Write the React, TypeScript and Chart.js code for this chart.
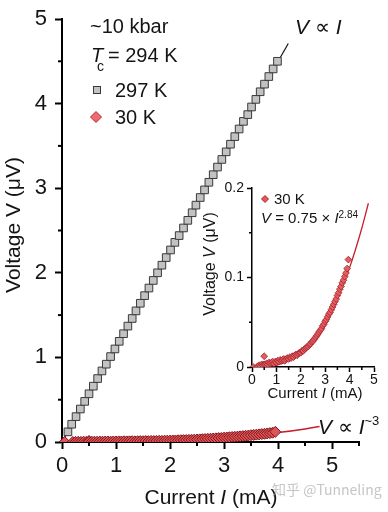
import React, { useEffect, useRef } from 'react';
import { Chart, registerables } from 'chart.js';
Chart.register(...registerables);

const FONT = "'Liberation Sans', Arial, Helvetica, sans-serif";

// 297 K data (grey squares)
const sqCurrent = [0.11, 0.18, 0.26, 0.34, 0.42, 0.50, 0.58, 0.66, 0.74, 0.82, 0.90, 0.98, 1.06, 1.14, 1.22, 1.30, 1.37, 1.45, 1.53, 1.61, 1.69, 1.77, 1.85, 1.93, 2.01, 2.09, 2.17, 2.25, 2.33, 2.41, 2.48, 2.56, 2.64, 2.72, 2.80, 2.88, 2.96, 3.04, 3.12, 3.20, 3.28, 3.36, 3.44, 3.51, 3.59, 3.67, 3.75, 3.83, 3.91, 3.99];
const sqVoltage = [0.12, 0.21, 0.30, 0.39, 0.48, 0.57, 0.66, 0.75, 0.84, 0.92, 1.01, 1.10, 1.19, 1.28, 1.37, 1.46, 1.55, 1.64, 1.73, 1.82, 1.91, 2.00, 2.09, 2.18, 2.27, 2.36, 2.44, 2.53, 2.62, 2.71, 2.80, 2.89, 2.98, 3.07, 3.16, 3.25, 3.34, 3.43, 3.52, 3.61, 3.70, 3.79, 3.87, 3.96, 4.05, 4.14, 4.23, 4.32, 4.41, 4.50];

// 30 K data (red diamonds)
const dmCurrent = [0.05, 0.20, 0.25, 0.30, 0.35, 0.40, 0.45, 0.50, 0.50, 0.55, 0.60, 0.65, 0.70, 0.75, 0.80, 0.85, 0.90, 0.95, 1.00, 1.05, 1.10, 1.15, 1.20, 1.25, 1.30, 1.35, 1.40, 1.45, 1.50, 1.55, 1.60, 1.65, 1.70, 1.75, 1.80, 1.85, 1.90, 1.95, 2.00, 2.05, 2.10, 2.15, 2.20, 2.25, 2.30, 2.35, 2.40, 2.45, 2.50, 2.55, 2.60, 2.65, 2.70, 2.75, 2.80, 2.85, 2.90, 2.95, 3.00, 3.05, 3.10, 3.15, 3.20, 3.25, 3.30, 3.35, 3.40, 3.45, 3.50, 3.55, 3.60, 3.65, 3.70, 3.75, 3.80, 3.85, 3.90, 3.95];
const dmVoltage = [0.000, 0.000, 0.001, 0.002, 0.001, 0.003, 0.002, 0.012, 0.003, 0.003, 0.004, 0.003, 0.005, 0.004, 0.005, 0.006, 0.004, 0.006, 0.005, 0.007, 0.006, 0.008, 0.007, 0.008, 0.009, 0.007, 0.009, 0.010, 0.009, 0.011, 0.010, 0.012, 0.011, 0.013, 0.014, 0.013, 0.015, 0.016, 0.016, 0.018, 0.018, 0.020, 0.021, 0.022, 0.023, 0.025, 0.026, 0.028, 0.029, 0.031, 0.033, 0.035, 0.037, 0.039, 0.041, 0.043, 0.046, 0.048, 0.051, 0.053, 0.056, 0.059, 0.061, 0.064, 0.067, 0.070, 0.073, 0.076, 0.080, 0.083, 0.087, 0.090, 0.094, 0.097, 0.101, 0.105, 0.110, 0.120];

// fit lines
const linFitCurrent = [0, 4.19];
const linFitVoltage = [0, 4.71];
const powFitCurrent = [0, 0.5, 1.0, 1.5, 2.0, 2.5, 3.0, 3.5, 4.0, 4.5, 4.77];
const powFitVoltage = [0, 0.0003, 0.0022, 0.0069, 0.0155, 0.0293, 0.049, 0.076, 0.111, 0.155, 0.183];

// ticks
const mainXTicks = [0, 1, 2, 3, 4, 5];
const mainXMinor = [0.5, 1.5, 2.5, 3.5, 4.5, 5.5];
const mainYTicks = [0, 1, 2, 3, 4, 5];
const mainYMinor = [0.5, 1.5, 2.5, 3.5, 4.5];
const insetXTicks = [0, 1, 2, 3, 4, 5];
const insetXMinor = [0.5, 1.5, 2.5, 3.5, 4.5];
const insetYTicks = [0, 0.1, 0.2];
const insetYMinor = [0.05, 0.15];

const RED_LINE = '#c81e2a';
const DM_FILL = '#e0555a';
const DM_BORDER = '#7c1418';
const SQ_FILL = '#c2c2c2';
const SQ_BORDER = '#3a3a3a';
const TEXT = '#141414';

type Run = { t: string; f: string; dy?: number };
function drawRuns(ctx: CanvasRenderingContext2D, x: number, y: number, runs: Run[], center = false) {
  let total = 0;
  for (const r of runs) { ctx.font = r.f; total += ctx.measureText(r.t).width; }
  let cx = center ? x - total / 2 : x;
  for (const r of runs) {
    ctx.font = r.f;
    ctx.fillText(r.t, cx, y + (r.dy || 0));
    cx += ctx.measureText(r.t).width;
  }
}
const reg = (s: number) => `${s}px ${FONT}`;
const ital = (s: number) => `italic ${s}px ${FONT}`;

function diamond(ctx: CanvasRenderingContext2D, x: number, y: number, r: number, fill: string, stroke: string) {
  ctx.beginPath();
  ctx.moveTo(x, y - r); ctx.lineTo(x + r, y); ctx.lineTo(x, y + r); ctx.lineTo(x - r, y); ctx.closePath();
  ctx.fillStyle = fill; ctx.fill();
  ctx.strokeStyle = stroke; ctx.lineWidth = 1; ctx.stroke();
}

function minorTicks(chart: any, xs: number[], ys: number[], len: number, w: number) {
  const ctx = chart.ctx as CanvasRenderingContext2D;
  const sx = chart.scales.x, sy = chart.scales.y;
  ctx.save();
  ctx.strokeStyle = '#000'; ctx.lineWidth = w;
  for (const v of xs) {
    const p = sx.getPixelForValue(v);
    ctx.beginPath(); ctx.moveTo(p, chart.chartArea.bottom); ctx.lineTo(p, chart.chartArea.bottom + len); ctx.stroke();
  }
  for (const v of ys) {
    const p = sy.getPixelForValue(v);
    ctx.beginPath(); ctx.moveTo(chart.chartArea.left, p); ctx.lineTo(chart.chartArea.left - len, p); ctx.stroke();
  }
  ctx.restore();
}

const mainDecor = {
  id: 'mainDecor',
  afterDraw(chart: any) {
    const ctx = chart.ctx as CanvasRenderingContext2D;
    minorTicks(chart, mainXMinor, mainYMinor, 4, 2);
    ctx.save();
    ctx.textAlign = 'left';
    ctx.textBaseline = 'alphabetic';
    ctx.fillStyle = TEXT;
    // axis titles
    ctx.save();
    ctx.translate(20, 225);
    ctx.rotate(-Math.PI / 2);
    drawRuns(ctx, 0, 0, [{ t: 'Voltage V (μV)', f: reg(21) }], true);
    ctx.restore();
    drawRuns(ctx, 211, 504, [{ t: 'Current ', f: reg(21) }, { t: 'I', f: ital(21) }, { t: ' (mA)', f: reg(21) }], true);
    // legend block
    drawRuns(ctx, 90, 33, [{ t: '~10 kbar', f: reg(20) }]);
    drawRuns(ctx, 91, 62, [{ t: 'T', f: ital(20) }]);
    drawRuns(ctx, 97, 71, [{ t: 'c', f: reg(14) }]);
    drawRuns(ctx, 108, 62, [{ t: '= 294 K', f: reg(20) }]);
    ctx.fillStyle = SQ_FILL; ctx.fillRect(93, 86, 8, 8);
    ctx.strokeStyle = SQ_BORDER; ctx.lineWidth = 1; ctx.strokeRect(93.5, 86.5, 7, 7);
    ctx.fillStyle = TEXT;
    drawRuns(ctx, 115, 97, [{ t: '297 K', f: reg(20) }]);
    diamond(ctx, 96, 117, 5.5, '#ef6a6f', '#b8282e');
    ctx.fillStyle = TEXT;
    drawRuns(ctx, 115, 124, [{ t: '30 K', f: reg(20) }]);
    // fit labels
    drawRuns(ctx, 295, 34, [{ t: 'V', f: ital(21) }, { t: ' ∝ ', f: reg(21) }, { t: 'I', f: ital(21) }]);
    drawRuns(ctx, 318, 434, [{ t: 'V', f: ital(21) }, { t: ' ∝ ', f: reg(21) }, { t: 'I', f: ital(21) }, { t: '~3', f: reg(13), dy: -9 }]);
    // watermark
    ctx.fillStyle = 'rgba(150,150,150,0.55)';
    drawRuns(ctx, 272, 495, [{ t: '知乎 @Tunneling', f: `14px 'Noto Sans CJK SC', ${FONT}` }]);
    ctx.restore();
  },
};

const insetDecor = {
  id: 'insetDecor',
  afterDraw(chart: any) {
    const ctx = chart.ctx as CanvasRenderingContext2D;
    minorTicks(chart, insetXMinor, insetYMinor, 3, 1.5);
    ctx.save();
    ctx.textAlign = 'left';
    ctx.textBaseline = 'alphabetic';
    ctx.fillStyle = TEXT;
    ctx.save();
    ctx.translate(25, 94);
    ctx.rotate(-Math.PI / 2);
    drawRuns(ctx, 0, 0, [{ t: 'Voltage ', f: reg(16) }, { t: 'V', f: ital(16) }, { t: ' (μV)', f: reg(16) }], true);
    ctx.restore();
    drawRuns(ctx, 125, 228, [{ t: 'Current ', f: reg(15) }, { t: 'I', f: ital(15) }, { t: ' (mA)', f: reg(15) }], true);
    diamond(ctx, 75, 29, 3.5, '#e0575c', '#b0242a');
    ctx.fillStyle = TEXT;
    drawRuns(ctx, 84, 34, [{ t: '30 K', f: reg(15) }]);
    drawRuns(ctx, 71, 53, [{ t: 'V', f: ital(15) }, { t: ' = 0.75 × ', f: reg(15) }, { t: 'I', f: ital(15) }, { t: '2.84', f: reg(10), dy: -5 }]);
    ctx.restore();
  },
};

const pts = (xs: number[], ys: number[]) => xs.map((x, i) => ({ x, y: ys[i] }));

function axisOpts(min: number, max: number, ticks: number[], size: number, pad: number, tickLen: number, lw: number, fmt: (v: number) => string, fit: (s: any) => void) {
  return {
    type: 'linear' as const,
    min, max,
    afterBuildTicks: (s: any) => { s.ticks = ticks.map((v) => ({ value: v })); },
    afterFit: fit,
    ticks: { font: { family: FONT, size, lineHeight: 1 }, color: TEXT, padding: pad, autoSkip: false, maxRotation: 0, callback: (v: any) => fmt(Number(v)) },
    grid: { display: true, drawOnChartArea: false, drawTicks: true, tickLength: tickLen, tickWidth: lw, tickColor: '#000' },
    border: { display: true, color: '#000', width: lw },
  };
}

export default function App() {
  const mainRef = useRef<HTMLCanvasElement>(null);
  const insetRef = useRef<HTMLCanvasElement>(null);

  useEffect(() => {
    document.body.style.margin = '0';
    const main = new Chart(mainRef.current!, {
      type: 'scatter',
      data: {
        datasets: [
          { label: '297 K', data: pts(sqCurrent, sqVoltage), pointStyle: 'rect', pointRadius: 5.4, backgroundColor: SQ_FILL, borderColor: SQ_BORDER, borderWidth: 1, order: 1 },
          { label: 'V ∝ I', data: pts(linFitCurrent, linFitVoltage), showLine: true, pointRadius: 0, borderColor: '#111', borderWidth: 1.2, order: 3 },
          { label: '30 K', data: pts(dmCurrent, dmVoltage), pointStyle: 'rectRot', pointRadius: 5.5, backgroundColor: DM_FILL, borderColor: DM_BORDER, borderWidth: 1, order: 2, clip: { left: 8, top: 8, right: 8, bottom: 0 } as any },
          { label: 'V ∝ I^3', data: pts(powFitCurrent, powFitVoltage), showLine: true, pointRadius: 0, borderColor: RED_LINE, borderWidth: 1.5, cubicInterpolationMode: 'monotone', order: 4 } as any,
        ],
      },
      options: {
        animation: false,
        responsive: false,
        maintainAspectRatio: false,
        devicePixelRatio: 1,
        events: [],
        layout: { padding: { top: 12, right: 29, left: 0, bottom: 0 } },
        plugins: { legend: { display: false }, tooltip: { enabled: false } },
        scales: {
          x: axisOpts(0, 5.5, mainXTicks, 22, 6, 7, 2, (v) => String(v), (s: any) => { s.height = 70; }),
          y: axisOpts(0, 5, mainYTicks, 22, 8, 7, 2, (v) => String(v), (s: any) => { s.width = 62; }),
        },
      } as any,
      plugins: [mainDecor],
    });

    const inset = new Chart(insetRef.current!, {
      type: 'scatter',
      data: {
        datasets: [
          { label: '30 K', data: pts(dmCurrent, dmVoltage), pointStyle: 'rectRot', pointRadius: 3.4, backgroundColor: '#e35e63', borderColor: '#a3222a', borderWidth: 0.8, order: 1, clip: { left: 6, top: 6, right: 6, bottom: 0 } as any },
          { label: 'V = 0.75 × I^2.84', data: pts(powFitCurrent, powFitVoltage), showLine: true, pointRadius: 0, borderColor: RED_LINE, borderWidth: 1.3, cubicInterpolationMode: 'monotone', order: 2 } as any,
        ],
      },
      options: {
        animation: false,
        responsive: false,
        maintainAspectRatio: false,
        devicePixelRatio: 1,
        events: [],
        layout: { padding: { top: 18, right: 14, left: 0, bottom: 0 } },
        plugins: { legend: { display: false }, tooltip: { enabled: false } },
        scales: {
          x: axisOpts(0, 5, insetXTicks, 14, 1, 5, 1.5, (v) => String(v), (s: any) => { s.height = 43; }),
          y: axisOpts(0, 0.2, insetYTicks, 14, 3, 5, 1.5, (v) => (v === 0 ? '0' : v.toFixed(1)), (s: any) => { s.width = 62; }),
        },
      } as any,
      plugins: [insetDecor],
    });

    return () => { main.destroy(); inset.destroy(); };
  }, []);

  return (
    <div style={{ position: 'relative', width: 388, height: 512, background: '#fff', overflow: 'hidden' }}>
      <canvas ref={mainRef} width={388} height={512} style={{ position: 'absolute', left: 0, top: 0, width: 388, height: 512 }} />
      <canvas ref={insetRef} width={198} height={240} style={{ position: 'absolute', left: 190, top: 170, width: 198, height: 240 }} />
    </div>
  );
}
